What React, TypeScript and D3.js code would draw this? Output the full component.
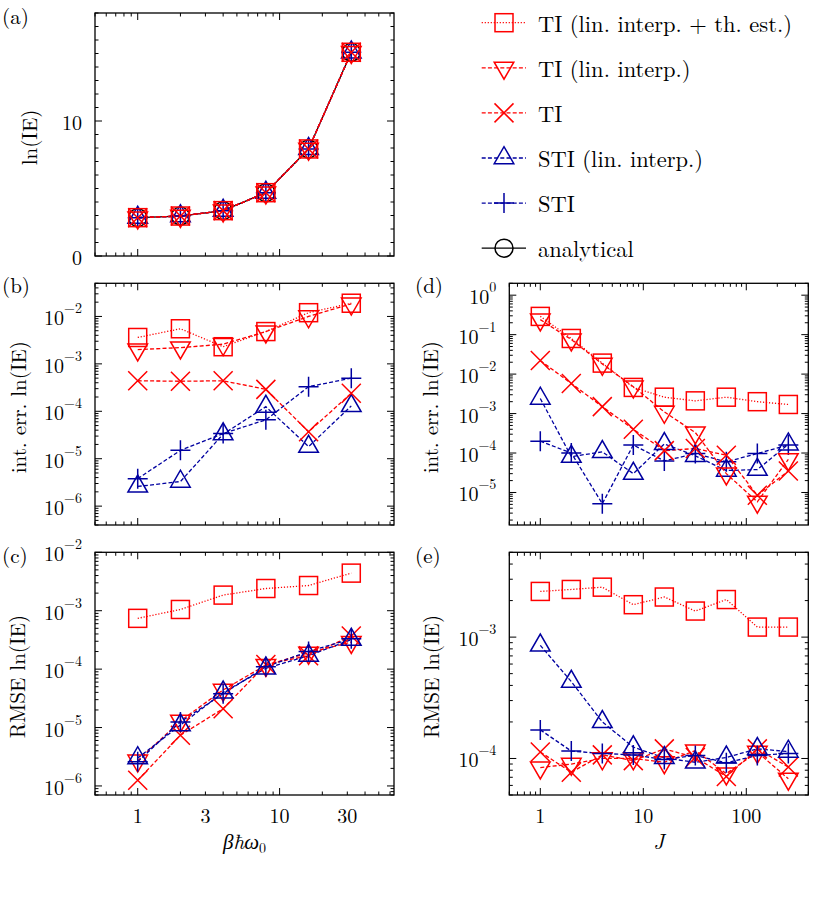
import React from "react";
import * as d3 from "d3";

// ---------- data ----------
const betaX = [1, 2, 4, 8, 16, 32];
const jX = [1, 2, 4, 8, 16, 32, 64, 128, 256];

// (a) ln(IE) vs beta hbar omega0
const lnIE = [2.84, 2.96, 3.36, 4.69, 7.93, 15.09];

// (b) integration error vs beta
const errB_TIthest = [3.6e-3, 5.5e-3, 2.3e-3, 4.8e-3, 1.2e-2, 1.9e-2];
const errB_TIlin = [2.0e-3, 2.2e-3, 2.6e-3, 4.8e-3, 1.0e-2, 1.85e-2];
const errB_TI = [4.4e-4, 4.3e-4, 4.4e-4, 2.9e-4, 3.7e-5, 2.4e-4];
const errB_STIlin = [2.6e-6, 3.3e-6, 3.3e-5, 1.25e-4, 1.8e-5, 1.3e-4];
const errB_STI = [3.8e-6, 1.5e-5, 3.4e-5, 6.6e-5, 3.3e-4, 5.0e-4];

// (c) RMSE vs beta
const rmseC_TIthest = [7.4e-4, 1.05e-3, 1.85e-3, 2.4e-3, 2.7e-3, 4.4e-3];
const rmseC_TIlin = [2.7e-6, 1.3e-5, 4.4e-5, 1.17e-4, 1.9e-4, 2.9e-4];
const rmseC_TI = [1.25e-6, 7.4e-6, 2.1e-5, 1.2e-4, 1.7e-4, 3.7e-4];
const rmseC_STIlin = [3.0e-6, 1.1e-5, 4.0e-5, 1.03e-4, 1.7e-4, 3.2e-4];
const rmseC_STI = [2.6e-6, 1.25e-5, 3.8e-5, 1.1e-4, 2.0e-4, 3.3e-4];

// (d) integration error vs J
const errD_TIthest = [0.29, 0.08, 0.019, 4.6e-3, 2.6e-3, 2.1e-3, 2.6e-3, 2.0e-3, 1.7e-3];
const errD_TIlin = [0.24, 0.075, 0.018, 4.8e-3, 1.1e-3, 3.3e-4, 3.0e-5, 5.8e-6, 6.9e-5];
const errD_TI = [0.022, 5.8e-3, 1.5e-3, 4.0e-4, 1.15e-4, 1.3e-4, 8.8e-5, 8.5e-6, 3.5e-5];
const errD_STIlin = [2.4e-3, 8.1e-5, 1.07e-4, 3.0e-5, 1.7e-4, 8.5e-5, 3.6e-5, 3.8e-5, 1.67e-4];
const errD_STI = [2.0e-4, 1.0e-4, 5.2e-6, 1.6e-4, 6.3e-5, 9.7e-5, 6.0e-5, 9.7e-5, 1.6e-4];

// (e) RMSE vs J
const rmseE_TIthest = [2.38e-3, 2.47e-3, 2.58e-3, 1.85e-3, 2.14e-3, 1.64e-3, 2.04e-3, 1.21e-3, 1.21e-3];
const rmseE_TIlin = [8.4e-5, 9.0e-5, 1.0e-4, 1.0e-4, 9.3e-5, 1.16e-4, 7.5e-5, 1.13e-4, 6.8e-5];
const rmseE_TI = [1.13e-4, 7.7e-5, 1.07e-4, 9.6e-5, 1.2e-4, 1.02e-4, 7.1e-5, 1.2e-4, 8.5e-5];
const rmseE_STIlin = [8.55e-4, 4.3e-4, 2.0e-4, 1.24e-4, 1.01e-4, 9.3e-5, 1.02e-4, 1.2e-4, 1.14e-4];
const rmseE_STI = [1.72e-4, 1.15e-4, 1.1e-4, 1.07e-4, 9.8e-5, 1.06e-4, 9.2e-5, 1.06e-4, 1.1e-4];

const legendLabels = [
  "TI (lin. interp. + th. est.)",
  "TI (lin. interp.)",
  "TI",
  "STI (lin. interp.)",
  "STI",
  "analytical",
];

// ---------- styles ----------
const RED = "#ff0000";
const BLUE = "#0000a0";
const FONT = "'Latin Modern Roman', 'CMU Serif', 'Liberation Serif', serif";
const TICK_FS = 20;
const TEXT_FS = 21;
const LEGEND_FS = 22.5;

type Marker = "square" | "tridown" | "cross" | "triup" | "plus" | "circle";
type Style = { color: string; dash: string | null; marker: Marker };

const S_THEST: Style = { color: RED, dash: "1.2 1.8", marker: "square" };
const S_TILIN: Style = { color: RED, dash: "4 2.2", marker: "tridown" };
const S_TI: Style = { color: RED, dash: "4 2.2", marker: "cross" };
const S_STILIN: Style = { color: BLUE, dash: "4 2.2", marker: "triup" };
const S_STI: Style = { color: BLUE, dash: "4 2.2", marker: "plus" };
const S_AN: Style = { color: "#000", dash: null, marker: "circle" };
const legendStyles = [S_THEST, S_TILIN, S_TI, S_STILIN, S_STI, S_AN];

function MarkerShape({ m, x, y, color }: { m: Marker; x: number; y: number; color: string }) {
  const sw = 1.5;
  const common = { fill: "none", stroke: color, strokeWidth: sw };
  switch (m) {
    case "square":
      return <rect x={x - 9} y={y - 9} width={18} height={18} {...common} />;
    case "tridown": {
      const h = 17, w = 9.8;
      return <path d={`M${x - w},${y - h / 3}L${x + w},${y - h / 3}L${x},${y + (2 * h) / 3}Z`} {...common} />;
    }
    case "triup": {
      const h = 17, w = 9.8;
      return <path d={`M${x - w},${y + h / 3}L${x + w},${y + h / 3}L${x},${y - (2 * h) / 3}Z`} {...common} />;
    }
    case "cross":
      return <path d={`M${x - 9.5},${y - 9.5}L${x + 9.5},${y + 9.5}M${x - 9.5},${y + 9.5}L${x + 9.5},${y - 9.5}`} {...common} />;
    case "plus":
      return <path d={`M${x - 10},${y}L${x + 10},${y}M${x},${y - 10}L${x},${y + 10}`} {...common} />;
    case "circle":
      return <circle cx={x} cy={y} r={9} {...common} />;
  }
}

type Series = { values: number[]; style: Style };

function logTicks(domain: [number, number]) {
  const out: { v: number; major: boolean }[] = [];
  const d0 = Math.floor(Math.log10(domain[0])) - 1;
  const d1 = Math.ceil(Math.log10(domain[1])) + 1;
  for (let d = d0; d <= d1; d++) {
    for (let k = 1; k <= 9; k++) {
      const v = k * Math.pow(10, d);
      if (v >= domain[0] * 0.9999 && v <= domain[1] * 1.0001) out.push({ v, major: k === 1 });
    }
  }
  return out;
}

function Panel(props: {
  left: number; top: number; right: number; bottom: number;
  xDomain: [number, number]; xs: number[];
  yDomain: [number, number]; yLog: boolean;
  series: Series[];
  yLabels: { v: number; exp?: string; text?: string }[];
  xLabels?: number[];
  xTitle?: React.ReactNode;
  yTitle: string; yTitleX: number;
  tag: string; tagX: number; tagY: number;
}) {
  const { left, top, right, bottom } = props;
  const x = d3.scaleLog().domain(props.xDomain).range([left, right]);
  const y = props.yLog
    ? d3.scaleLog().domain(props.yDomain).range([bottom, top])
    : d3.scaleLinear().domain(props.yDomain).range([bottom, top]);
  const xt = logTicks(props.xDomain);
  const yt = props.yLog
    ? logTicks(props.yDomain)
    : d3.range(props.yDomain[0], props.yDomain[1] + 0.001, 1).map((v) => ({ v, major: v % 10 === 0 }));
  const MAJ = 7, MIN = 3.5;
  const line = d3.line<number>().x((_, i) => x(props.xs[i])).y((d) => y(d));
  const clipId = `clip-${props.tag.replace(/[()]/g, "")}`;
  return (
    <g>
      <defs>
        <clipPath id={clipId}>
          <rect x={left} y={top} width={right - left} height={bottom - top} />
        </clipPath>
      </defs>
      {xt.map((t, i) => {
        const px = x(t.v);
        const L = t.major ? MAJ : MIN;
        return (
          <g key={"xt" + i} stroke="#000" strokeWidth={1}>
            <line x1={px} x2={px} y1={bottom} y2={bottom - L} />
            <line x1={px} x2={px} y1={top} y2={top + L} />
          </g>
        );
      })}
      {yt.map((t, i) => {
        const py = y(t.v);
        const L = t.major ? MAJ : MIN;
        return (
          <g key={"yt" + i} stroke="#000" strokeWidth={1}>
            <line x1={left} x2={left + L} y1={py} y2={py} />
            <line x1={right} x2={right - L} y1={py} y2={py} />
          </g>
        );
      })}
      <g clipPath={`url(#${clipId})`}>
        {props.series.map((s, si) => (
          <path key={"l" + si} d={line(s.values) || ""} fill="none" stroke={s.style.color}
            strokeWidth={1.3} strokeDasharray={s.style.dash || undefined} />
        ))}
      </g>
      {props.series.map((s, si) => (
        <g key={"m" + si}>
          {s.values.map((v, i) => (
            <MarkerShape key={i} m={s.style.marker} x={x(props.xs[i])} y={y(v)} color={s.style.color} />
          ))}
        </g>
      ))}
      <rect x={left} y={top} width={right - left} height={bottom - top} fill="none" stroke="#000" strokeWidth={1.3} />
      {props.yLabels.map((l, i) => (
        <text key={"yl" + i} x={left - 13} y={y(l.v)} textAnchor="end" dominantBaseline="central"
          fontSize={TICK_FS} fontFamily={FONT}>
          {l.exp !== undefined ? (
            <>
              <tspan>10</tspan>
              <tspan fontSize={14} dy={-9}>{l.exp}</tspan>
            </>
          ) : (
            l.text
          )}
        </text>
      ))}
      {props.xLabels &&
        props.xLabels.map((v, i) => (
          <text key={"xl" + i} x={x(v)} y={823} textAnchor="middle" fontSize={TICK_FS} fontFamily={FONT}>
            {v}
          </text>
        ))}
      {props.xTitle && (
        <text x={(left + right) / 2} y={849} textAnchor="middle" fontSize={TEXT_FS} fontFamily={FONT}>
          {props.xTitle}
        </text>
      )}
      <text transform={`translate(${props.yTitleX},${(top + bottom) / 2 + 3}) rotate(-90)`} textAnchor="middle"
        dominantBaseline="central" fontSize={TEXT_FS} fontFamily={FONT}>
        {props.yTitle}
      </text>
      <text x={props.tagX} y={props.tagY} fontSize={TEXT_FS} fontFamily={FONT}>
        {props.tag}
      </text>
    </g>
  );
}

export default function App() {
  const betaDomain: [number, number] = [0.5, 64];
  const jDomain: [number, number] = [0.5, 400];
  const L1 = 95, R1 = 394, L2 = 509.3, R2 = 808.3;
  const T1 = 13, B1 = 256, T2 = 283.3, B2 = 525, T3 = 552.3, B3 = 795;

  const seriesA: Series[] = [S_AN, S_STI, S_STILIN, S_TI, S_TILIN, S_THEST].map((style) => ({ values: lnIE, style }));
  const seriesB: Series[] = [
    { values: errB_STI, style: S_STI },
    { values: errB_STIlin, style: S_STILIN },
    { values: errB_TI, style: S_TI },
    { values: errB_TIlin, style: S_TILIN },
    { values: errB_TIthest, style: S_THEST },
  ];
  const seriesC: Series[] = [
    { values: rmseC_TI, style: S_TI },
    { values: rmseC_TIlin, style: S_TILIN },
    { values: rmseC_STI, style: S_STI },
    { values: rmseC_STIlin, style: S_STILIN },
    { values: rmseC_TIthest, style: S_THEST },
  ];
  const seriesD: Series[] = [
    { values: errD_STI, style: S_STI },
    { values: errD_STIlin, style: S_STILIN },
    { values: errD_TI, style: S_TI },
    { values: errD_TIlin, style: S_TILIN },
    { values: errD_TIthest, style: S_THEST },
  ];
  const seriesE: Series[] = [
    { values: rmseE_TI, style: S_TI },
    { values: rmseE_TIlin, style: S_TILIN },
    { values: rmseE_STI, style: S_STI },
    { values: rmseE_STIlin, style: S_STILIN },
    { values: rmseE_TIthest, style: S_THEST },
  ];

  const decLabels = (exps: number[]) => exps.map((e) => ({ v: Math.pow(10, e), exp: e < 0 ? `\u2212${-e}` : `${e}` }));

  const betaTitle = (
    <>
      <tspan fontStyle="italic">βħω</tspan>
      <tspan fontSize={14} dy={4}>0</tspan>
    </>
  );

  const legendY0 = 22.7, legendDy = 45.1;

  return (
    <svg width={830} height={898} style={{ display: "block", position: "absolute", left: 0, top: 0, background: "#fff" }}>
      <rect width={830} height={898} fill="#fff" />
      <Panel left={L1} right={R1} top={T1} bottom={B1} xDomain={betaDomain} xs={betaX}
        yDomain={[0, 18]} yLog={false} series={seriesA}
        yLabels={[{ v: 0, text: "0" }, { v: 10, text: "10" }]}
        yTitle="ln(IE)" yTitleX={28} tag="(a)" tagX={2} tagY={24} />
      <Panel left={L1} right={R1} top={T2} bottom={B2} xDomain={betaDomain} xs={betaX}
        yDomain={[4e-7, 5e-2]} yLog={true} series={seriesB}
        yLabels={decLabels([-2, -3, -4, -5, -6])}
        yTitle="int. err. ln(IE)" yTitleX={17} tag="(b)" tagX={2} tagY={293} />
      <Panel left={L1} right={R1} top={T3} bottom={B3} xDomain={betaDomain} xs={betaX}
        yDomain={[7e-7, 1e-2]} yLog={true} series={seriesC}
        yLabels={decLabels([-2, -3, -4, -5, -6])}
        xLabels={[1, 3, 10, 30]} xTitle={betaTitle}
        yTitle="RMSE ln(IE)" yTitleX={16} tag="(c)" tagX={2} tagY={563} />
      <Panel left={L2} right={R2} top={T2} bottom={B2} xDomain={jDomain} xs={jX}
        yDomain={[1.5e-6, 2]} yLog={true} series={seriesD}
        yLabels={decLabels([0, -1, -2, -3, -4, -5])}
        yTitle="int. err. ln(IE)" yTitleX={429} tag="(d)" tagX={415} tagY={293} />
      <Panel left={L2} right={R2} top={T3} bottom={B3} xDomain={jDomain} xs={jX}
        yDomain={[5e-5, 5e-3]} yLog={true} series={seriesE}
        yLabels={decLabels([-3, -4])}
        xLabels={[1, 10, 100]} xTitle={<tspan fontStyle="italic">J</tspan>}
        yTitle="RMSE ln(IE)" yTitleX={430} tag="(e)" tagX={415} tagY={563} />
      {legendLabels.map((lab, i) => {
        const st = legendStyles[i];
        const yy = legendY0 + i * legendDy;
        return (
          <g key={"lg" + i}>
            <line x1={481.7} x2={526} y1={yy} y2={yy} stroke={st.color} strokeWidth={1.3}
              strokeDasharray={st.dash || undefined} />
            <MarkerShape m={st.marker} x={504} y={yy} color={st.color} />
            <text x={538} y={yy} dominantBaseline="central" fontSize={LEGEND_FS} fontFamily={FONT}>
              {lab}
            </text>
          </g>
        );
      })}
    </svg>
  );
}
